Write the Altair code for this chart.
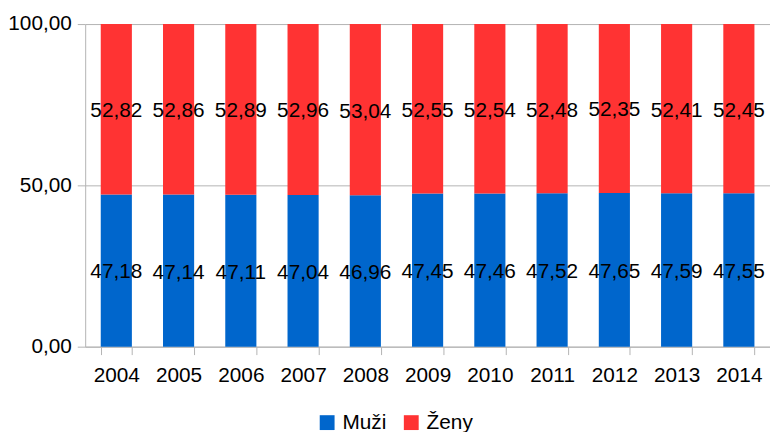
import altair as alt
import pandas as pd

years = ["2004", "2005", "2006", "2007", "2008", "2009", "2010", "2011", "2012", "2013", "2014"]
muzi = [47.18, 47.14, 47.11, 47.04, 46.96, 47.45, 47.46, 47.52, 47.65, 47.59, 47.55]
zeny = [52.82, 52.86, 52.89, 52.96, 53.04, 52.55, 52.54, 52.48, 52.35, 52.41, 52.45]
series = ["Muži", "Ženy"]
colors = ["#0066CC", "#FF3333"]

rows = []
for i, y in enumerate(years):
    rows.append({"year": y, "series": series[0], "value": muzi[i], "ord": 0})
    rows.append({"year": y, "series": series[1], "value": zeny[i], "ord": 1})
df = pd.DataFrame(rows)

FONT = "Liberation Sans"
FS = 21

base = alt.Chart(df).transform_stack(
    stack="value", groupby=["year"], as_=["v0", "v1"], sort=[alt.SortField("ord", order="ascending")]
).transform_calculate(
    mid="(datum.v0 + datum.v1) / 2",
    label="replace(format(datum.value, '.2f'), '.', ',')",
)

x_enc = alt.X(
    "year:N",
    sort=years,
    title=None,
    scale=alt.Scale(paddingInner=0.5, paddingOuter=0.25),
    axis=alt.Axis(
        labelAngle=0, labelFont=FONT, labelFontSize=FS, labelColor="#000000",
        domainColor="#b3b3b3", tickColor="#b3b3b3", tickBand="extent", tickSize=8,
        labelPadding=10,
    ),
)

bars = base.mark_bar().encode(
    x=x_enc,
    y=alt.Y(
        "v0:Q",
        title=None,
        scale=alt.Scale(domain=[0, 100], nice=False),
        axis=alt.Axis(
            values=[0, 50, 100],
            labelExpr="replace(format(datum.value, '.2f'), '.', ',')",
            labelFont=FONT, labelFontSize=FS, labelColor="#000000",
            domainColor="#b3b3b3", tickColor="#b3b3b3", tickSize=8,
            gridColor="#b3b3b3", grid=True, labelPadding=6,
        ),
    ),
    y2="v1:Q",
    color=alt.Color(
        "series:N",
        scale=alt.Scale(domain=series, range=colors),
        legend=alt.Legend(
            title=None, orient="none", direction="horizontal",
            legendX=234, legendY=392,
            symbolType="square", symbolSize=225, symbolStrokeWidth=0,
            labelFont=FONT, labelFontSize=FS, labelColor="#000000",
            columnPadding=14, symbolOffset=0, labelOffset=5,
        ),
    ),
)

texts = base.mark_text(font=FONT, fontSize=FS, color="#000000", baseline="middle", dy=2).encode(
    x=alt.X("year:N", sort=years),
    y=alt.Y("mid:Q"),
    text="label:N",
)

chart = alt.layer(bars, texts).properties(
    width=692, height=326,
    padding={"left": 78, "top": 14, "right": 0, "bottom": 84},
    autosize=alt.AutoSizeParams(type="none"),
).configure_view(stroke=None).configure_axis(gridWidth=1, domainWidth=1)

chart.save("out.html", embed_options={"renderer": "svg", "actions": False})
